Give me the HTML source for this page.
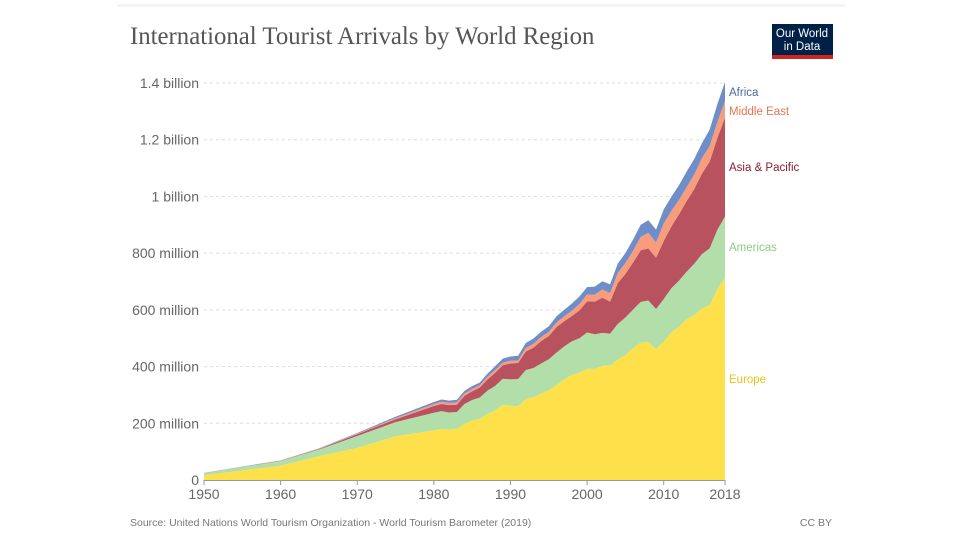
<!DOCTYPE html>
<html><head><meta charset="utf-8"><style>
body{margin:0;background:#fff;width:960px;height:540px;overflow:hidden;font-family:"Liberation Sans",sans-serif}
</style></head><body>
<svg id="chart" width="960" height="540">
<rect x="117" y="4" width="728" height="3" fill="#f4f4f4"/>
<text x="130" y="44" font-family="Liberation Serif,serif" font-size="24.8" fill="#555">International Tourist Arrivals by World Region</text>
<g>
<rect x="772" y="24" width="61" height="35" fill="#002147"/>
<rect x="772" y="55" width="61" height="4" fill="#ce261e"/>
<text x="802" y="37" font-size="11.5" fill="#fff" text-anchor="middle">Our World</text>
<text x="802" y="50" font-size="11.5" fill="#fff" text-anchor="middle">in Data</text>
</g>
<g id="grid"></g><g id="areas"></g><g id="axes"></g><g id="legend"></g>
<text x="130" y="526" font-size="10.5" fill="#777">Source: United Nations World Tourism Organization - World Tourism Barometer (2019)</text>
<text x="832" y="526" font-size="10.5" fill="#777" text-anchor="end">CC BY</text>
</svg>
<script>
const years=[1950,1960,1965,1970,1975,1980,1981,1982,1983,1984,1985,1986,1987,1988,1989,1990,1991,1992,1993,1994,1995,1996,1997,1998,1999,2000,2001,2002,2003,2004,2005,2006,2007,2008,2009,2010,2011,2012,2013,2014,2015,2016,2017,2018];
const europe=[16.8,50.4,83.7,113,153.9,175,180,178,180,198,210,215,233,245,265,262,260,285,292,305,316,335,355,370,378,392,392,403,403,425,440,465,485,486,462,488,520,540,567,582,605,617,672,713];
const americas=[7.5,16.7,23.2,42.3,50,62.3,63,60,60,70,72,76,82,87,92,93,96,103,103,106,110,114,116,119,122,128,122,116,113,125,133,136,143,147,141,150,156,163,168,181,192,200,210,216];
const asiaPacific=[0.2,0.9,2.1,6.2,10.2,23.6,25,26,26,29,31,35,40,46,48,56,57,65,72,79,82,90,89,89,98,110,115,124,113,144,154,166,182,184,181,205,218,234,249,264,284,306,324,348];
const middleEast=[0.2,0.6,1.1,1.9,4.3,7.1,8,8,8,8,8,8,9,10,9,9.6,9,12,13,14,14,16,17,19,22,24,25,29,30,36,38,41,47,55,53,61,55,51,49,51,54,55,56,60];
const africa=[0.5,0.8,1.4,2.4,4.7,7.2,8,8,9,9.5,10,10,11,13,14,15,16,18,19,19,20,22,23,25,27,26,28,29,31,33,35,40,43,44,46,50,50,52,55,55,53,58,63,67];
const yTicks=[0,200,400,600,800,1000,1200,1400];
const yTickLabels=["0","200 million","400 million","600 million","800 million","1 billion","1.2 billion","1.4 billion"];
const xTicks=[1950,1960,1970,1980,1990,2000,2010,2018];
const seriesNames=["Europe","Americas","Asia & Pacific","Middle East","Africa"];
const NS="http://www.w3.org/2000/svg";
const X=y=>204+(y-1950)*(725-204)/68;
const Y=v=>480-v*(397/1400);
function mk(tag,attrs,parent){const e=document.createElementNS(NS,tag);for(const k in attrs)e.setAttribute(k,attrs[k]);parent.appendChild(e);return e;}
const grid=document.getElementById('grid'),axes=document.getElementById('axes'),areas=document.getElementById('areas'),legend=document.getElementById('legend');
yTicks.forEach((t,i)=>{
 if(t>0){const l=mk('line',{x1:204,x2:725,y1:Y(t),y2:Y(t),stroke:'#ddd','stroke-dasharray':'3,3'},grid);
 
 }
 const tx=mk('text',{x:199,y:Y(t)+5,'text-anchor':'end','font-size':14,fill:'#666'},axes);tx.textContent=yTickLabels[i];
 
 
});
const base=mk('line',{x1:204,x2:725,y1:480.5,y2:480.5,stroke:'#999'},axes);


xTicks.forEach(t=>{
 mk('line',{x1:X(t),x2:X(t),y1:480,y2:485,stroke:'#999'},axes);
 const tx=mk('text',{x:X(t),y:499,'text-anchor':'middle','font-size':14,fill:'#666'},axes);tx.textContent=t;
 
 
});
const series=[europe,americas,asiaPacific,middleEast,africa];
const fills=['#fee14a','#b2dfa9','#b9525f','#f89d7c','#6f8ec9'];
const labelColors=['#e9c31a','#8fcb86','#8a1e33','#e5744f','#4b6aa3'];
const names=['europe-area','americas-area','asia-pacific-area','middle-east-area','africa-area'];
let cum=years.map(()=>0);
series.forEach((s,k)=>{
 const top=cum.map((c,i)=>c+s[i]);
 let d='M'+years.map((y,i)=>X(y)+','+Y(top[i])).join('L');
 for(let i=years.length-1;i>=0;i--)d+='L'+X(years[i])+','+Y(cum[i]);
 const p=mk('path',{d:d+'Z',fill:fills[k]},areas);
 
 
 const last=years.length-1;
 let ly=Y((cum[last]+top[last])/2)+4;
 if(k===3)ly=115; if(k===4)ly=96;
 const t=mk('text',{x:729,y:ly,'font-size':11.5,fill:labelColors[k]},legend);t.textContent=seriesNames[k];
 
 
 cum=top;
});
</script>
</body></html>
